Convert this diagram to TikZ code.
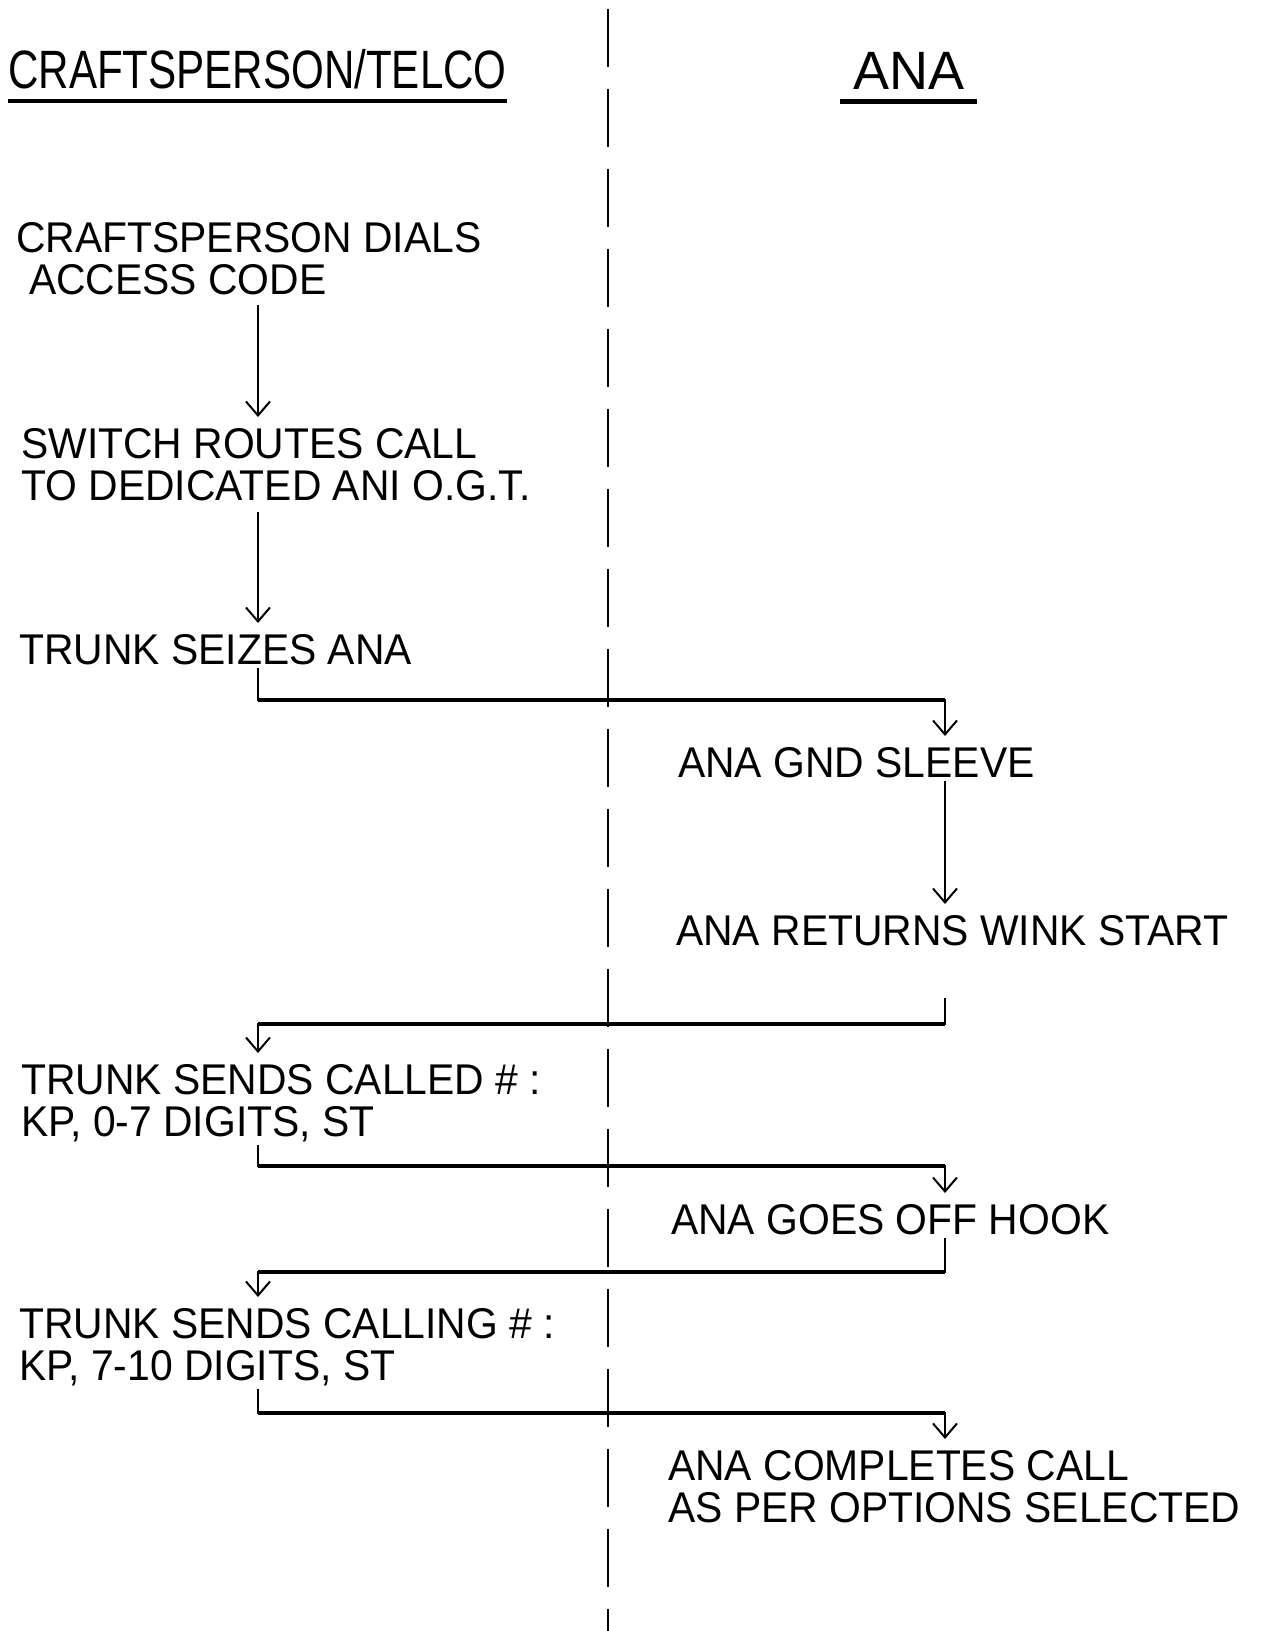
\documentclass[tikz,border=0pt]{standalone}
\usepackage{fontspec}
\setmainfont{Liberation Sans}
\newfontfamily\narrowhand[FakeStretch=0.78]{Liberation Sans}
\newfontfamily\hand[FakeStretch=0.95]{Liberation Sans}
\usetikzlibrary{arrows.meta}

\begin{document}
\begin{tikzpicture}[
        x=1pt, y=-1pt,
        font={\fontsize{43}{42}\hand},
        txt/.style={anchor=north west, inner sep=0pt, align=left},
        head/.style={anchor=north west, inner sep=0pt, font={\fontsize{54}{60}\selectfont}},
        arr/.style={-{Straight Barb[length=14pt, width=24pt]}, line width=2pt, shorten >=11pt, shorten <=3pt},
        bus/.style={line width=4.5pt},
        lane/.style={line width=2pt, dash pattern=on 58pt off 22pt}
      ]
        \useasboundingbox (0,0) rectangle (1270,1631);
        \coordinate (lx) at (258,0);
        \coordinate (rx) at (945,0);
        \coordinate (b1) at (0,700);
        \coordinate (b2) at (0,1024);
        \coordinate (b3) at (0,1166);
        \coordinate (b4) at (0,1272);
        \coordinate (b5) at (0,1413);

        \draw[lane] (608,9) -- (608,1631);

        \node[head, font={\fontsize{54}{60}\narrowhand}] (craft) at (8,49) {CRAFTSPERSON/TELCO};
        \node[head] (ana) at (853,52) {ANA};
        \draw[bus] ([yshift=-12pt]craft.south west) -- ([yshift=-12pt]craft.south east);
        \draw[bus] ([shift={(-13pt,-12pt)}]ana.south west) -- ([shift={(13pt,-12pt)}]ana.south east);

        \node[txt] (dial)    at (16,222)   {CRAFTSPERSON DIALS\\\hspace*{13pt}ACCESS CODE};
        \node[txt] (route)   at (21,428)   {SWITCH ROUTES CALL\\TO DEDICATED ANI O.G.T.};
        \node[txt] (seize)   at (19,634)   {TRUNK SEIZES ANA};
        \node[txt] (gnd)     at (678,747)  {ANA GND SLEEVE};
        \node[txt] (wink)    at (676,915)  {ANA RETURNS WINK START};
        \node[txt] (called)  at (21,1064)  {TRUNK SENDS CALLED \# :\\KP, 0-7 DIGITS, ST};
        \node[txt] (hook)    at (671,1204) {ANA GOES OFF HOOK};
        \node[txt] (calling) at (19,1308)  {TRUNK SENDS CALLING \# :\\KP, 7-10 DIGITS, ST};
        \node[txt] (done)    at (668,1450) {ANA COMPLETES CALL\\AS PER OPTIONS SELECTED};

        \draw[arr, shorten <=10pt] (dial.south -| lx) -- (route.north -| lx);
        \draw[arr, shorten <=11pt] (route.south -| lx) -- (seize.north -| lx);
        \draw[arr] (seize.south -| lx) |- (b1 -| rx) -- (gnd.north -| rx);
        \draw[arr] (gnd.south -| rx) -- (wink.north -| rx);
        \draw[arr] (wink.south -| rx) ++(0,49) |- (b2 -| lx) -- (called.north -| lx);
        \draw[arr] (called.south -| lx) |- (b3 -| rx) -- (hook.north -| rx);
        \draw[arr] (hook.south -| rx) |- (b4 -| lx) -- (calling.north -| lx);
        \draw[arr] (calling.south -| lx) |- (b5 -| rx) -- (done.north -| rx);
        \draw[bus] (b1 -| lx) -- (b1 -| rx);
        \draw[bus] (b2 -| lx) -- (b2 -| rx);
        \draw[bus] (b3 -| lx) -- (b3 -| rx);
        \draw[bus] (b4 -| lx) -- (b4 -| rx);
        \draw[bus] (b5 -| lx) -- (b5 -| rx);
\end{tikzpicture}
\end{document}
